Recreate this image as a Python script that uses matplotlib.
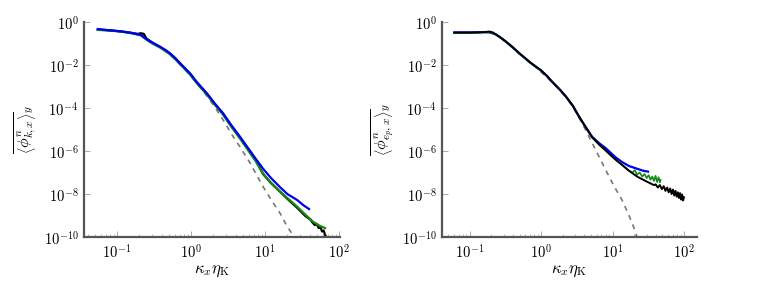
import matplotlib

matplotlib.use("Agg")
import matplotlib.pyplot as plt

plt.rcParams["mathtext.fontset"] = "cm"
plt.rcParams["font.family"] = ["DejaVu Serif"]

# left panel: kinetic energy spectra
k_blue_l = [0.055, 0.08, 0.11, 0.15, 0.21, 0.25, 0.30, 0.38, 0.45, 0.52, 0.61, 0.71, 0.83, 0.97, 1.2, 1.64,
            2.1, 2.71, 3.5, 4.59, 5.89, 7.5, 9.4, 12.0, 15.9, 20.0, 27.1, 33.0, 39.3]
e_blue_l = [0.47, 0.41, 0.37, 0.32, 0.25, 0.16, 0.11, 0.071, 0.050, 0.035, 0.021, 0.012, 7.0e-3, 4.1e-3, 1.6e-3,
            4.8e-4, 1.6e-4, 5.7e-5, 1.6e-5, 4.6e-6, 1.38e-6, 4.3e-7, 1.5e-7, 5.6e-8, 2.1e-8, 1.0e-8, 5.3e-9,
            3.0e-9, 2.0e-9]
k_green_l = [0.055, 0.08, 0.11, 0.15, 0.21, 0.25, 0.30, 0.38, 0.45, 0.52, 0.61, 0.71, 0.83, 0.97, 1.2, 1.64,
             2.1, 2.71, 3.5, 4.59, 5.89, 7.5, 9.4, 12.0, 15.9, 20.0, 27.1, 35.0, 44.6, 55.0, 64.7]
e_green_l = [0.43, 0.40, 0.36, 0.31, 0.24, 0.15, 0.10, 0.065, 0.045, 0.031, 0.019, 0.011, 6.3e-3, 3.6e-3,
             1.4e-3, 4.2e-4, 1.4e-4, 4.9e-5, 1.35e-5, 3.8e-6, 1.1e-6, 3.3e-7, 9.0e-8, 3.2e-8, 1.3e-8, 6.5e-9,
             2.6e-9, 1.1e-9, 5.1e-10, 3.3e-10, 2.6e-10]
k_black_l = [0.055, 0.08, 0.11, 0.15, 0.19, 0.21, 0.23, 0.25, 0.30, 0.38, 0.45, 0.52, 0.61, 0.71, 0.83, 0.97,
             1.2, 1.64, 2.1, 2.71, 3.5, 4.59, 5.89, 7.5, 9.4, 12.0, 15.9, 20.0, 27.1, 35.0, 41.0, 44.0, 47.0,
             50.0, 53.0, 56.0, 59.0, 62.0, 65.0, 69.0]
e_black_l = [0.44, 0.41, 0.37, 0.32, 0.28, 0.30, 0.28, 0.17, 0.11, 0.070, 0.049, 0.034, 0.021, 0.012, 6.8e-3,
             3.9e-3, 1.5e-3, 4.5e-4, 1.5e-4, 5.2e-5, 1.45e-5, 4.1e-6, 1.2e-6, 3.6e-7, 8.5e-8, 3.3e-8, 1.3e-8,
             6.0e-9, 2.3e-9, 9.5e-10, 6.5e-10, 4.6e-10, 3.6e-10, 4.0e-10, 2.6e-10, 2.9e-10, 1.8e-10, 2.0e-10,
             1.2e-10, 9.0e-11]
k_model_l = [0.055, 0.11, 0.21, 0.25, 0.38, 0.52, 0.71, 0.97, 1.3, 1.64, 2.1, 2.71, 3.70, 4.59, 6.27, 9.4,
             12.5, 15.9, 19.5, 22.9, 24.6]
e_model_l = [0.43, 0.36, 0.25, 0.16, 0.066, 0.031, 0.0105, 3.4e-3, 1.0e-3, 3.6e-4, 1.1e-4, 2.8e-5, 4.7e-6,
             1.55e-6, 2.8e-7, 2.2e-8, 4.5e-9, 1.3e-9, 3.5e-10, 1.5e-10, 1.0e-10]

# right panel: potential energy spectra
k_blue_r = [0.061, 0.10, 0.15, 0.187, 0.23, 0.27, 0.321, 0.40, 0.492, 0.60, 0.70, 0.843, 1.0, 1.2, 1.42, 1.8,
            2.22, 2.8, 3.40, 4.2, 5.17, 6.5, 8.03, 9.5, 11.1, 13.5, 17.0, 22.0, 27.0, 31.4]
e_blue_r = [0.33, 0.33, 0.34, 0.33, 0.27, 0.19, 0.121, 0.066, 0.035, 0.020, 0.013, 8.3e-3, 5.5e-3, 3.1e-3,
            1.67e-3, 7.5e-4, 3.4e-4, 1.2e-4, 3.9e-5, 1.3e-5, 4.6e-6, 2.3e-6, 1.35e-6, 8.0e-7, 5.0e-7, 3.1e-7,
            2.0e-7, 1.5e-7, 1.2e-7, 1.1e-7]
k_green_r = [0.061, 0.10, 0.15, 0.187, 0.23, 0.27, 0.321, 0.40, 0.492, 0.60, 0.70, 0.843, 1.0, 1.2, 1.42, 1.8,
             2.22, 2.8, 3.40, 4.2, 5.17, 6.5, 8.03, 9.5, 11.1, 13.7, 17.0, 19.0, 20.5, 22.0, 24.0, 26.0, 28.0,
             30.0, 32.0, 34.0, 36.0, 38.0, 40.0, 42.0, 44.0, 46.0, 47.0]
e_green_r = [0.30, 0.31, 0.33, 0.34, 0.27, 0.19, 0.123, 0.067, 0.035, 0.020, 0.013, 8.3e-3, 5.5e-3, 3.1e-3,
             1.67e-3, 7.5e-4, 3.4e-4, 1.2e-4, 3.9e-5, 1.3e-5, 4.3e-6, 1.95e-6, 1.05e-6, 6.2e-7, 3.9e-7,
             2.2e-7, 1.2e-7, 1.0e-7, 1.3e-7, 8.0e-8, 1.0e-7, 6.5e-8, 8.5e-8, 5.5e-8, 7.5e-8, 4.6e-8, 6.5e-8,
             4.0e-8, 7.0e-8, 3.6e-8, 6.0e-8, 3.5e-8, 4.5e-8]
k_black_r = [0.061, 0.10, 0.15, 0.187, 0.21, 0.23, 0.27, 0.321, 0.40, 0.492, 0.60, 0.70, 0.843, 1.0, 1.2, 1.42,
             1.8, 2.22, 2.8, 3.40, 4.2, 5.17, 6.5, 8.03, 9.5, 11.1, 13.7, 17.0, 22.2, 30.0, 37.9, 40.0, 43.0,
             46.0, 49.0, 52.0, 55.0, 58.0, 61.0, 64.0, 67.0, 70.0, 73.0, 76.0, 79.0, 82.0, 85.0, 88.0, 91.0,
             94.0, 97.0, 100.0]
e_black_r = [0.32, 0.32, 0.33, 0.36, 0.33, 0.27, 0.19, 0.125, 0.068, 0.036, 0.021, 0.0135, 8.5e-3, 5.6e-3,
             3.2e-3, 1.7e-3, 7.7e-4, 3.5e-4, 1.25e-4, 4.0e-5, 1.3e-5, 4.4e-6, 2.0e-6, 1.05e-6, 6.2e-7, 3.9e-7,
             2.2e-7, 1.2e-7, 6.4e-8, 3.8e-8, 2.6e-8, 2.8e-8, 2.0e-8, 2.6e-8, 1.7e-8, 2.3e-8, 1.4e-8, 2.0e-8,
             1.2e-8, 1.8e-8, 1.0e-8, 1.6e-8, 8.5e-9, 1.4e-8, 7.5e-9, 1.2e-8, 6.5e-9, 1.1e-8, 5.5e-9, 9.5e-9,
             5.0e-9, 7.0e-9]
k_model_r = [0.061, 0.187, 0.23, 0.321, 0.492, 0.843, 1.42, 2.22, 2.8, 3.40, 3.74, 4.69, 6.48, 8.03, 10.5,
             13.6, 17.0, 20.0, 22.0]
e_model_r = [0.31, 0.33, 0.27, 0.12, 0.034, 8.0e-3, 1.6e-3, 3.3e-4, 1.1e-4, 3.5e-5, 2.0e-5, 4.6e-6, 5.4e-7,
             1.3e-7, 2.3e-8, 5.2e-9, 1.0e-9, 2.6e-10, 1.0e-10]

xticks = [0.1, 1, 10, 100]
xtick_labels = [r"$10^{-1}$", r"$10^{0}$", r"$10^{1}$", r"$10^{2}$"]
yticks = [1e0, 1e-2, 1e-4, 1e-6, 1e-8, 1e-10]
ytick_labels = [r"$10^{0}$", r"$10^{-2}$", r"$10^{-4}$", r"$10^{-6}$", r"$10^{-8}$", r"$10^{-10}$"]

BLUE = "#0000f0"
GREEN = "#138a13"
spine_col = "#555555"

fig = plt.figure(figsize=(7.74, 2.81), dpi=100)
ax1 = fig.add_axes([84 / 774, 44 / 281, 256 / 774, 215 / 281])
ax2 = fig.add_axes([442 / 774, 44 / 281, 255 / 774, 215 / 281])


def style(ax, xlim):
    ax.set_xscale("log")
    ax.set_yscale("log")
    ax.set_xlim(*xlim)
    ax.set_ylim(1e-10, 1e0)
    for s in ("top", "right"):
        ax.spines[s].set_visible(False)
    for s in ("left", "bottom"):
        ax.spines[s].set_color(spine_col)
        ax.spines[s].set_linewidth(1.6)
    ax.set_xticks(xticks, xtick_labels)
    ax.set_yticks(yticks, ytick_labels)
    ax.yaxis.set_minor_locator(matplotlib.ticker.NullLocator())
    ax.tick_params(axis="both", which="major", direction="in", length=4, width=0.7,
                   color="#aaaaaa", labelsize=10.5, pad=4)
    ax.tick_params(axis="x", which="minor", direction="in", length=2.5, width=0.6, color="#aaaaaa")
    ax.set_xlabel(r"$\kappa_x\eta_{\mathrm{K}}$", fontsize=12, labelpad=1)


dash = dict(color="#777777", lw=1.2, ls=(0, (3, 3)))

ax1.plot(k_model_l, e_model_l, **dash)
ax1.plot(k_black_l, e_black_l, color="black", lw=1.6)
ax1.plot(k_green_l, e_green_l, color=GREEN, lw=1.6)
ax1.plot(k_blue_l, e_blue_l, color=BLUE, lw=1.6)
style(ax1, (0.0358, 103))
ax1.set_ylabel(r"$\overline{\left\langle\phi^{n}_{k,x}\right\rangle}_y$", fontsize=11.5, labelpad=3)

ax2.plot(k_model_r, e_model_r, **dash)
ax2.plot(k_blue_r, e_blue_r, color=BLUE, lw=1.6)
ax2.plot(k_green_r, e_green_r, color=GREEN, lw=1.2)
ax2.plot(k_black_r, e_black_r, color="black", lw=1.4)
style(ax2, (0.041, 152))
ax2.set_ylabel(r"$\overline{\left\langle\phi^{n}_{e_p,x}\right\rangle}_y$", fontsize=11.5, labelpad=3)

fig.savefig("out.png", dpi=100, facecolor="white")
